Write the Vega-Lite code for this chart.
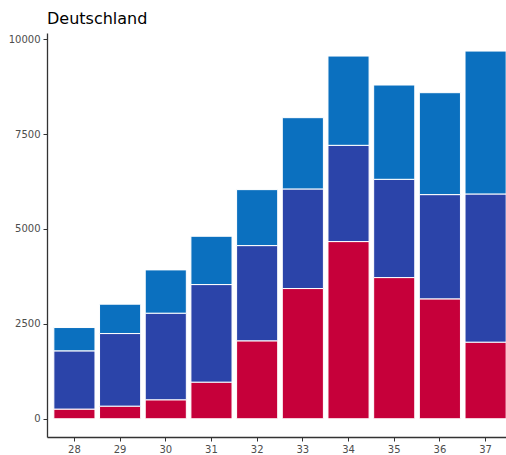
{
  "$schema": "https://vega.github.io/schema/vega-lite/v6.json",
  "autosize": {"type": "none"},
  "width": 459,
  "height": 404,
  "padding": {"left": 47, "top": 33, "right": 0, "bottom": 18},
  "background": "white",
  "title": {
    "text": "Deutschland",
    "anchor": "start",
    "frame": "group",
    "font": "DejaVu Sans",
    "fontSize": 16,
    "fontWeight": "normal",
    "color": "#000000",
    "baseline": "alphabetic",
    "offset": -7
  },
  "data": {
    "values": [
      {"week": "28", "group": "rot", "value": 255, "ord": 1},
      {"week": "28", "group": "dunkelblau", "value": 1534, "ord": 2},
      {"week": "28", "group": "hellblau", "value": 614, "ord": 3},
      {"week": "29", "group": "rot", "value": 333, "ord": 1},
      {"week": "29", "group": "dunkelblau", "value": 1912, "ord": 2},
      {"week": "29", "group": "hellblau", "value": 773, "ord": 3},
      {"week": "30", "group": "rot", "value": 500, "ord": 1},
      {"week": "30", "group": "dunkelblau", "value": 2281, "ord": 2},
      {"week": "30", "group": "hellblau", "value": 1140, "ord": 3},
      {"week": "31", "group": "rot", "value": 965, "ord": 1},
      {"week": "31", "group": "dunkelblau", "value": 2570, "ord": 2},
      {"week": "31", "group": "hellblau", "value": 1272, "ord": 3},
      {"week": "32", "group": "rot", "value": 2053, "ord": 1},
      {"week": "32", "group": "dunkelblau", "value": 2508, "ord": 2},
      {"week": "32", "group": "hellblau", "value": 1474, "ord": 3},
      {"week": "33", "group": "rot", "value": 3430, "ord": 1},
      {"week": "33", "group": "dunkelblau", "value": 2623, "ord": 2},
      {"week": "33", "group": "hellblau", "value": 1877, "ord": 3},
      {"week": "34", "group": "rot", "value": 4667, "ord": 1},
      {"week": "34", "group": "dunkelblau", "value": 2535, "ord": 2},
      {"week": "34", "group": "hellblau", "value": 2351, "ord": 3},
      {"week": "35", "group": "rot", "value": 3719, "ord": 1},
      {"week": "35", "group": "dunkelblau", "value": 2588, "ord": 2},
      {"week": "35", "group": "hellblau", "value": 2483, "ord": 3},
      {"week": "36", "group": "rot", "value": 3158, "ord": 1},
      {"week": "36", "group": "dunkelblau", "value": 2746, "ord": 2},
      {"week": "36", "group": "hellblau", "value": 2684, "ord": 3},
      {"week": "37", "group": "rot", "value": 2018, "ord": 1},
      {"week": "37", "group": "dunkelblau", "value": 3903, "ord": 2},
      {"week": "37", "group": "hellblau", "value": 3763, "ord": 3}
    ]
  },
  "mark": {"type": "bar", "stroke": "white", "strokeWidth": 1},
  "encoding": {
    "x": {
      "field": "week",
      "type": "ordinal",
      "title": null,
      "scale": {"range": [0, 466], "paddingInner": 0.1, "paddingOuter": 0.15},
      "axis": {
        "labelAngle": 0,
        "labelFont": "DejaVu Sans",
        "labelFontSize": 10,
        "labelColor": "#4D4D4D",
        "labelPadding": 3,
        "tickSize": 4,
        "tickColor": "#333333",
        "tickWidth": 1,
        "domainColor": "#333333",
        "domainWidth": 1.3,
        "grid": false
      }
    },
    "y": {
      "field": "value",
      "type": "quantitative",
      "stack": "zero",
      "title": null,
      "scale": {"domain": [-480, 10160], "nice": false, "zero": false},
      "axis": {
        "values": [0, 2500, 5000, 7500, 10000],
        "format": "d",
        "labelFont": "DejaVu Sans",
        "labelFontSize": 10,
        "labelColor": "#4D4D4D",
        "labelPadding": 3,
        "tickSize": 4,
        "tickColor": "#333333",
        "tickWidth": 1,
        "domainColor": "#333333",
        "domainWidth": 1.3,
        "grid": false
      }
    },
    "color": {
      "field": "group",
      "type": "nominal",
      "scale": {
        "domain": ["rot", "dunkelblau", "hellblau"],
        "range": ["#C6003A", "#2B44A9", "#0B70BF"]
      },
      "legend": null
    },
    "order": {"field": "ord", "type": "quantitative"}
  },
  "config": {"view": {"stroke": null}}
}
